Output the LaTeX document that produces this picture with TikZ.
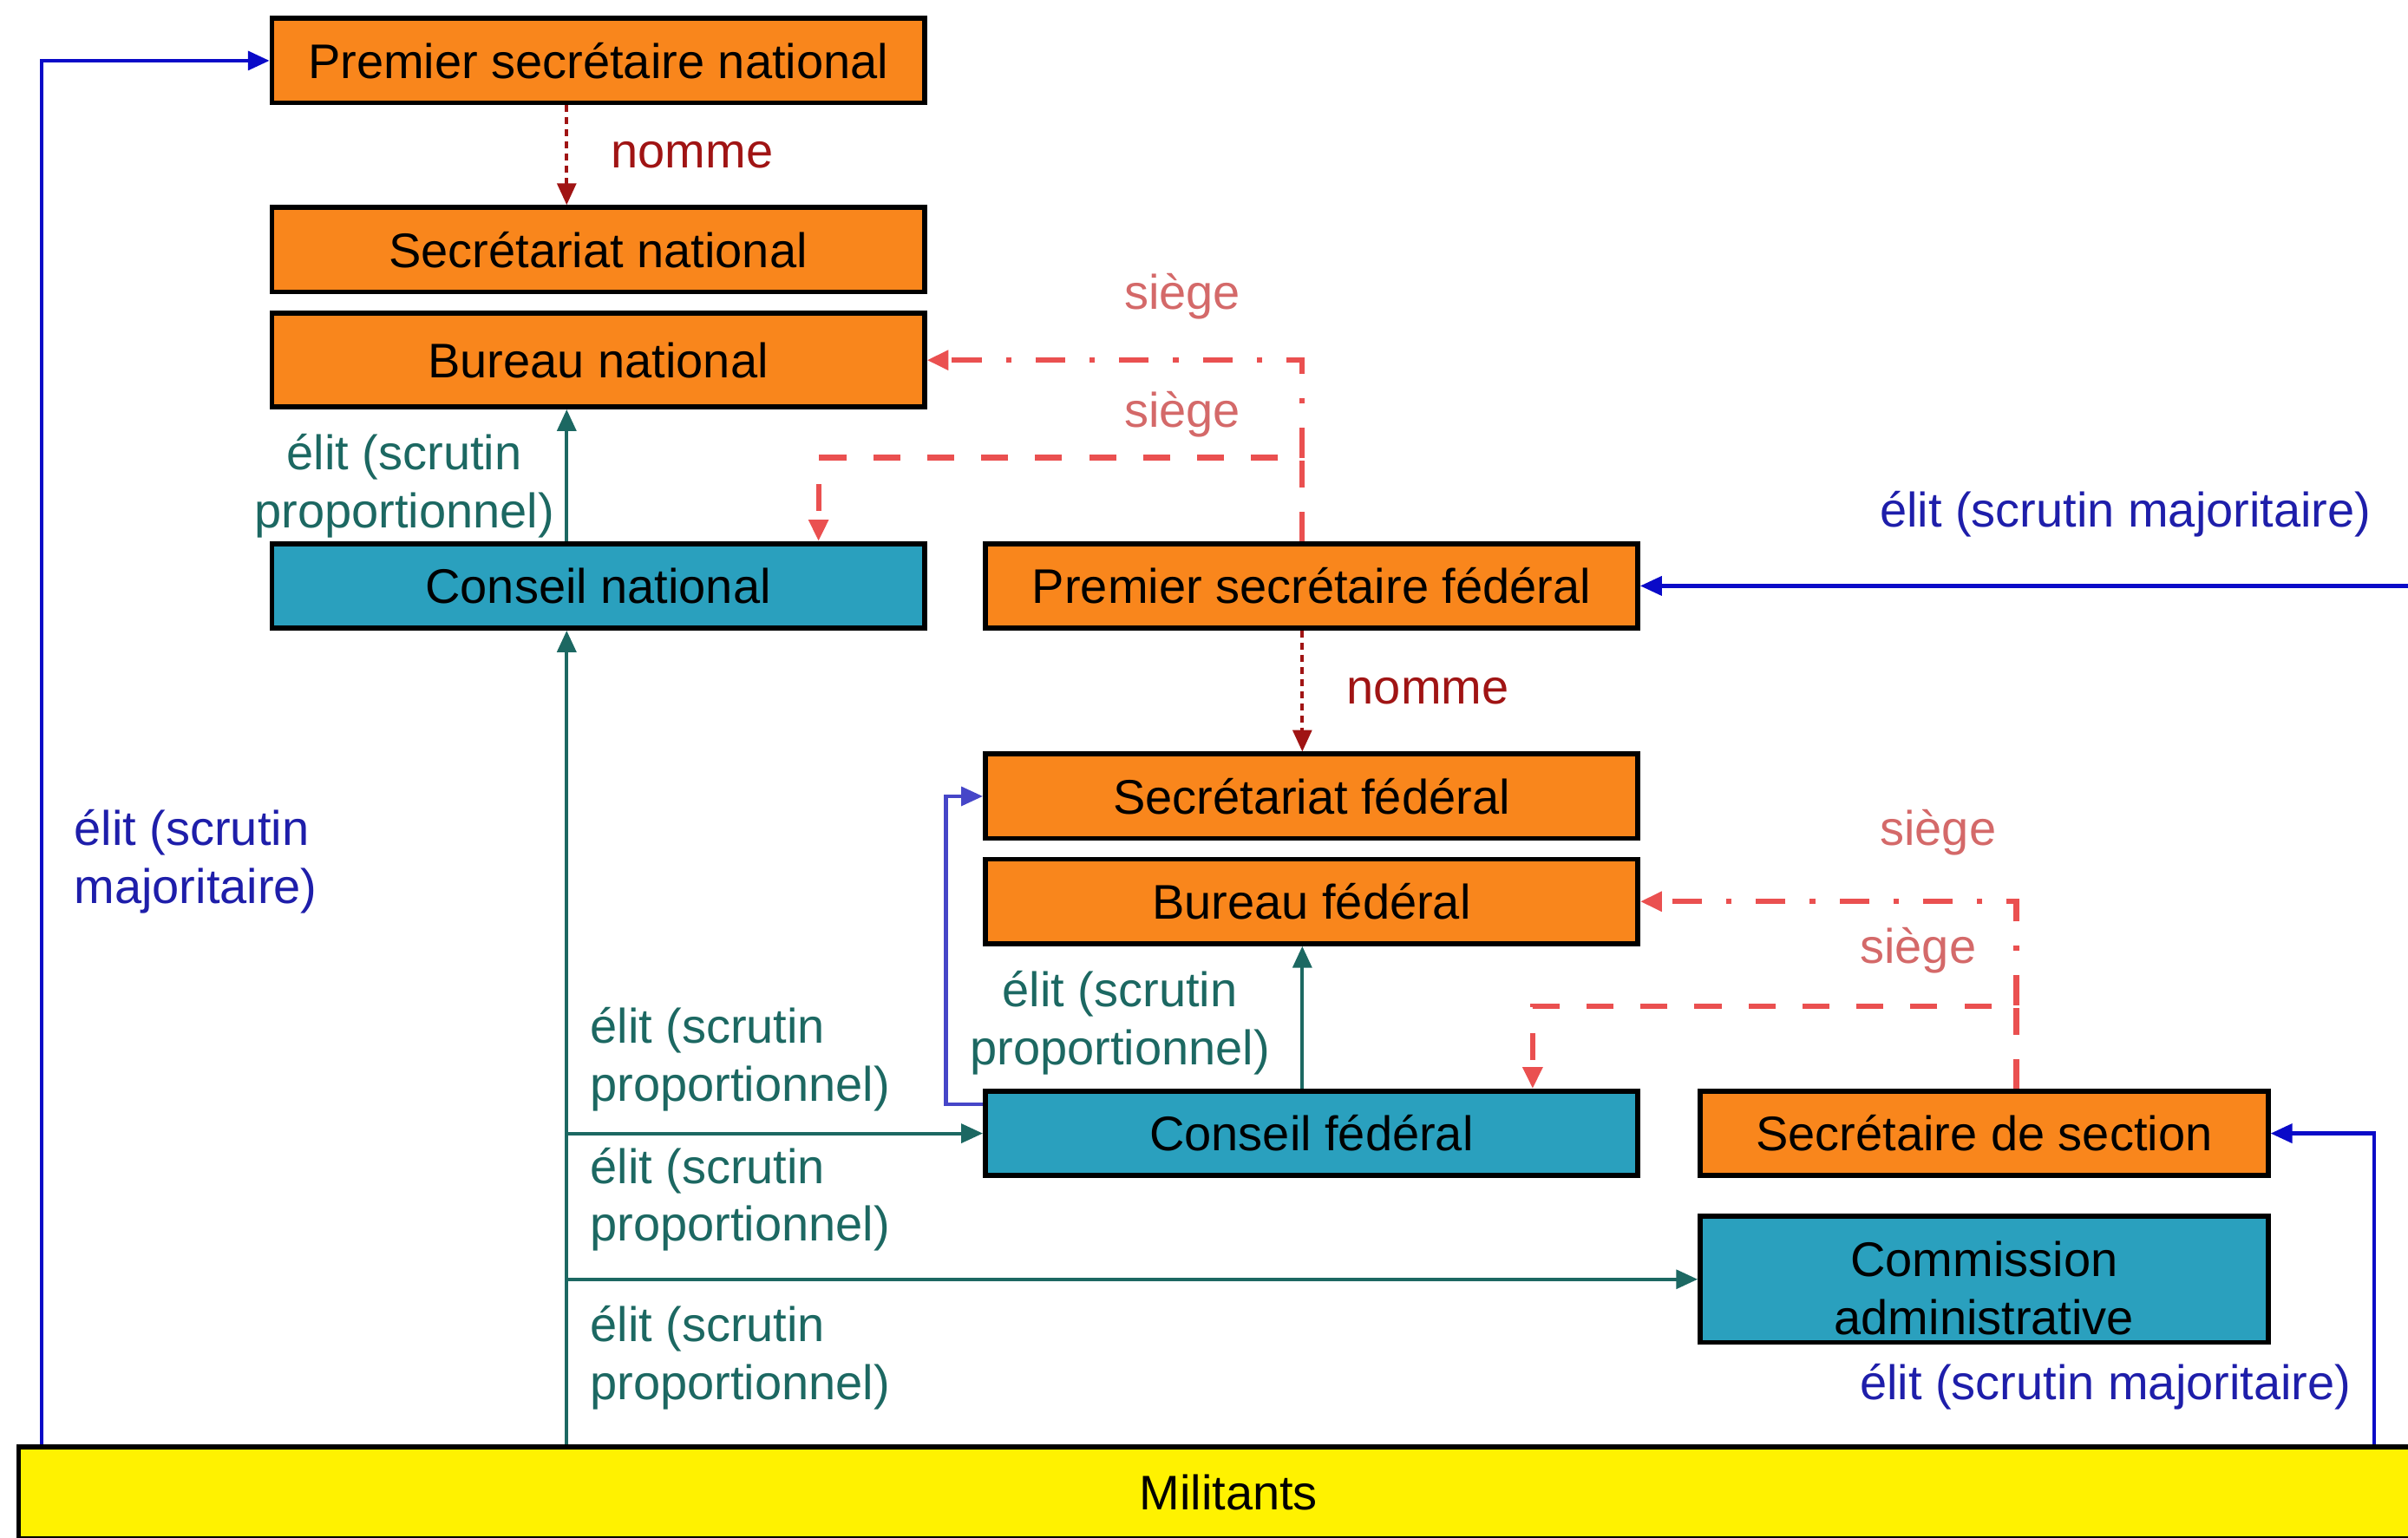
\documentclass[tikz,border=0pt]{standalone}
\usepackage{fontspec}
\setmainfont{Liberation Sans}
\setsansfont{Liberation Sans}
\usetikzlibrary{positioning,arrows.meta,calc}

\definecolor{orgbox}{RGB}{249,134,28}
\definecolor{tealbox}{RGB}{42,160,190}
\definecolor{elitgreen}{RGB}{28,104,98}
\definecolor{elitblue}{RGB}{10,10,200}
\definecolor{elitbluetxt}{RGB}{30,30,170}
\definecolor{fedblue}{RGB}{70,70,200}
\definecolor{nommered}{RGB}{160,20,20}
\definecolor{siegered}{RGB}{234,80,80}
\definecolor{siegetxt}{RGB}{212,105,105}

\begin{document}
\begin{tikzpicture}[x=0.02cm,y=-0.02cm,font=\sffamily\fontsize{18}{21.5}\selectfont,
	box/.style={draw,line width=1.8pt,inner sep=0pt,minimum width=8.5cm,minimum height=1.1cm},
	orgbox/.style={box,fill=orgbox},
	tealbox/.style={box,fill=tealbox},
	lbl/.style={inner sep=0pt},
	tip/.style={-{Triangle[length=8pt,width=7pt]}},
	elit/.style={tip,elitgreen,line width=1.3pt},
	maj/.style={tip,elitblue,line width=1.4pt},
	fedarrow/.style={tip,fedblue,line width=1.3pt},
	nomme/.style={tip,nommered,line width=1.2pt,dash pattern=on 2.5pt off 2pt},
	siegedd/.style={tip,siegered,line width=2pt,dash pattern=on 11pt off 9pt on 2pt off 9pt},
	siegedash/.style={tip,siegered,line width=2pt,dash pattern=on 10pt off 10pt}]
	\useasboundingbox (0,0) rectangle (1568,1001);
	% national level
	\node[orgbox] (PSN) at (389.5,39.5) {Premier secrétaire national};
	\node[orgbox] (SN) at (389.5,162.5) {Secrétariat national};
	\node[orgbox,minimum height=1.22cm] (BN) at (389.5,234.5) {Bureau national};
	\node[tealbox] (CN) at (389.5,381.5) {Conseil national};
	% federal level
	\node[orgbox] (PSF) at (854,381.5) {Premier secrétaire fédéral};
	\node[orgbox] (SF) at (854,518.5) {Secrétariat fédéral};
	\node[orgbox] (BF) at (854,587) {Bureau fédéral};
	\node[tealbox] (CF) at (854,738) {Conseil fédéral};
	% section
	\node[orgbox,minimum width=7.4cm] (SS) at (1292,738) {Secrétaire de section};
	\node[tealbox,minimum width=7.4cm,minimum height=1.64cm,align=center,
		text height=41pt,text depth=0pt] (CA) at (1292,833) {Commission\\administrative};
	\node[box,fill=yellow,minimum width=31.52cm,minimum height=1.2cm] (Mil) at (800,972) {Militants};

	\coordinate (nat) at (369,0);
	\coordinate (fed) at (848,0);
	\coordinate (sec) at (1313,0);
	\coordinate (majL) at (27,0);
	\coordinate (majS) at (1546,0);
	\coordinate (edgeR) at (1570,0);
	\coordinate (kN) at (533,298);
	\coordinate (kF) at (998,655);

	% nomme
	\draw[nomme] (PSN.south -| nat) -- (SN.north -| nat)
		node[lbl,midway,right=0.56cm,nommered] (nm-1) {nomme};
	\draw[nomme] (PSF.south -| fed) -- (SF.north -| fed)
		node[lbl,midway,right=0.56cm,nommered] (nm-2) {nomme};

	% siege
	\draw[siegedd] (PSF.north -| fed) |- (BN.east);
	\draw[siegedash] (PSF.north -| fed) |- (kN) -- (CN.north -| kN);
	\draw[siegedd] (SS.north -| sec) |- (BF.east);
	\draw[siegedash] (SS.north -| sec) |- (kF) -- (CF.north -| kF);
	\node[lbl,siegetxt] (sg-1) at (770,193) {siège};
	\node[lbl,siegetxt] (sg-2) at (770,270) {siège};
	\node[lbl,siegetxt] (sg-3) at (1262,542) {siège};
	\node[lbl,siegetxt] (sg-4) at (1249,619) {siège};

	% scrutin proportionnel
	\draw[elit] (CN.north -| nat) -- (BN.south -| nat)
		node[lbl,pos=0.42,left=0.14cm,align=center,elitgreen] (ep-1) {élit (scrutin\\proportionnel)};
	\draw[elit] (CF.north -| fed) -- (BF.south -| fed)
		node[lbl,pos=0.46,left=0.4cm,align=center,elitgreen] (ep-2) {élit (scrutin\\proportionnel)};
	\draw[elit] (Mil.north -| nat) -- (CN.south -| nat);
	\draw[elit] (nat |- CF.west) -- (CF.west);
	\draw[elit] (nat |- CA.west) -- (CA.west);
	\foreach \Y [count=\N from 3] in {690,781,884}
		\node[lbl,anchor=west,align=left,elitgreen] (ep-\N) at (384,\Y) {élit (scrutin\\proportionnel)};

	% scrutin majoritaire
	\draw[maj] (Mil.north -| majL) |- (PSN.west);
	\draw[maj] (PSF.east -| edgeR) -- (PSF.east);
	\draw[maj] (Mil.north -| majS) |- (SS.east);
	\draw[fedarrow] ([yshift=-0.2cm]CF.north west) -- ++(-24,0) |- (SF.west);
	\node[lbl,anchor=west,align=left,elitbluetxt] (em-1) at (48,561) {élit (scrutin\\majoritaire)};
	\node[lbl,elitbluetxt] (em-2) at (1384,335) {élit (scrutin majoritaire)};
	\node[lbl,elitbluetxt] (em-3) at (1371,903) {élit (scrutin majoritaire)};
\end{tikzpicture}
\end{document}
